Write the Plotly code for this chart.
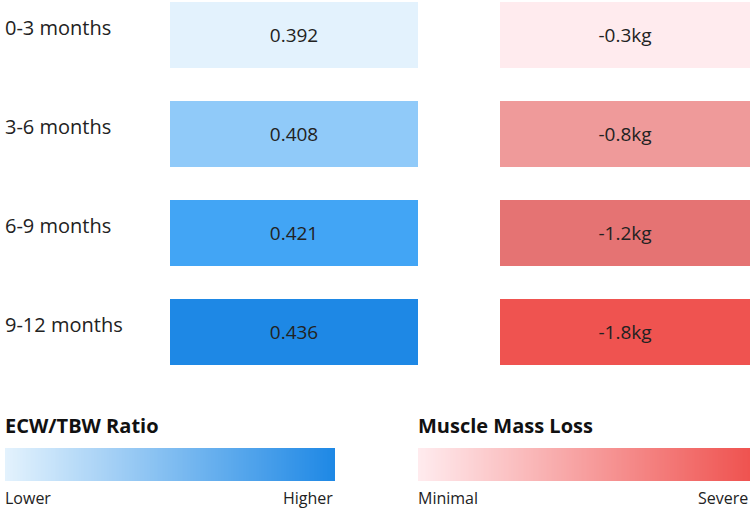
import numpy as np
import plotly.graph_objects as go

periods = ["0-3 months", "3-6 months", "6-9 months", "9-12 months"]
ecw_tbw = [0.392, 0.408, 0.421, 0.436]
muscle_loss_kg = [-0.3, -0.8, -1.2, -1.8]
blue_colors = ["#E3F2FD", "#90CAF9", "#42A5F5", "#1E88E5"]
red_colors = ["#FFEBEE", "#EF9A9A", "#E57373", "#EF5350"]
legend_titles = ["ECW/TBW Ratio", "Muscle Mass Loss"]
legend_low = ["Lower", "Minimal"]
legend_high = ["Higher", "Severe"]

W, H = 751, 513
FONT = "Open Sans"
TXT = "#222222"

# layout constants (pixel-like x units)
BLUE_X0, BLUE_W = 170, 248
RED_X0, RED_W = 500, 250
LEG = [(5, 330), (418, 332)]

rows = list(range(len(periods)))
fig = go.Figure()
fig.add_trace(go.Bar(
    y=rows, x=[BLUE_W] * len(rows), base=[BLUE_X0] * len(rows), orientation="h",
    marker=dict(color=blue_colors, line=dict(width=0)), width=0.667,
    text=[f"{v:.3f}" for v in ecw_tbw], textposition="inside", insidetextanchor="middle",
    textfont=dict(family=FONT, size=19, color=TXT), hoverinfo="skip", showlegend=False))
fig.add_trace(go.Bar(
    y=rows, x=[RED_W] * len(rows), base=[RED_X0] * len(rows), orientation="h",
    marker=dict(color=red_colors, line=dict(width=0)), width=0.667,
    text=[f"{v:.1f}kg" for v in muscle_loss_kg], textposition="inside", insidetextanchor="middle",
    textfont=dict(family=FONT, size=19, color=TXT), hoverinfo="skip", showlegend=False))

# gradient legend bars
N = 200
for (x0, w), cs in zip(LEG, [[[0, "#E3F2FD"], [1, "#1E88E5"]], [[0, "#FFEBEE"], [1, "#EF5350"]]]):
    xs = x0 + (np.arange(N) + 0.5) * w / N
    fig.add_trace(go.Heatmap(x=xs, y=[0], z=[np.linspace(0, 1, N)], colorscale=cs,
                             showscale=False, xaxis="x2", yaxis="y2", hoverinfo="skip"))

annotations = []
for i, p in enumerate(periods):
    annotations.append(dict(x=3, y=i, xref="x", yref="y", text=p, showarrow=False,
                            xanchor="left", yanchor="middle", yshift=8,
                            font=dict(family=FONT, size=20, color=TXT)))

def py(px):
    return 1 - px / H

for (x0, w), t, lo, hi in zip(LEG, legend_titles, legend_low, legend_high):
    annotations.append(dict(x=x0 - 2, y=py(425), xref="x", yref="paper", text=f"<b>{t}</b>",
                            showarrow=False, xanchor="left", yanchor="middle",
                            font=dict(family=FONT, size=20, color="#111111")))
    annotations.append(dict(x=x0 - 2, y=py(498), xref="x", yref="paper", text=lo,
                            showarrow=False, xanchor="left", yanchor="middle",
                            font=dict(family=FONT, size=16, color=TXT)))
    annotations.append(dict(x=x0 + w, y=py(498), xref="x", yref="paper", text=hi,
                            showarrow=False, xanchor="right", yanchor="middle",
                            font=dict(family=FONT, size=16, color=TXT)))

fig.update_layout(
    width=W, height=H, margin=dict(l=0, r=0, t=0, b=0),
    paper_bgcolor="white", plot_bgcolor="white", barmode="overlay",
    xaxis=dict(range=[0, W], domain=[0, 1], visible=False, fixedrange=True),
    yaxis=dict(range=[(380 - 35) / 99, -35 / 99], domain=[py(380), 1], visible=False),
    xaxis2=dict(range=[0, W], domain=[0, 1], visible=False, anchor="y2"),
    yaxis2=dict(range=[-0.5, 0.5], domain=[py(481), py(448)], visible=False, anchor="x2"),
    annotations=annotations, bargap=0,
)
fig.write_html("out.html")
